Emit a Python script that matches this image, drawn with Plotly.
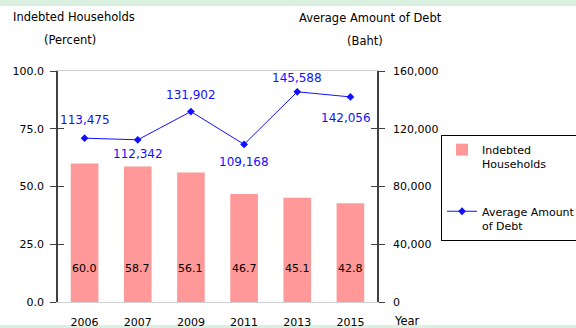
import plotly.graph_objects as go

# Survey years and series
years = ["2006", "2007", "2009", "2011", "2013", "2015"]
indebted_pct = [60.0, 58.7, 56.1, 46.7, 45.1, 42.8]
avg_debt = [113475, 112342, 131902, 109168, 145588, 142056]
left_ticks = [0, 25, 50, 75, 100]
right_ticks = [0, 40000, 80000, 120000, 160000]

# Label placement for the debt line (pixel offsets from each marker)
debt_label_shift = [(0, 18), (0, -14), (0, 17), (0, -18), (0, 14), (-4, -21)]

FONT = "DejaVu Sans"
BAR_COLOR = "#FF9999"
LINE_COLOR = "#1010FF"
AXIS_COLOR = "#404040"

# plot area in pixels
W, H = 576, 328
L, R, T, B = 58, 377, 71, 302


def px_x(p):
    return (p - L) / (R - L)


def px_y(p):
    return (B - p) / (B - T)


fig = go.Figure()

fig.add_trace(go.Bar(
    x=years, y=indebted_pct, name="Indebted<br>Households",
    legendgroup="bars",
    marker=dict(color=BAR_COLOR, line=dict(width=0)), width=0.52,
    yaxis="y", hoverinfo="skip",
))
fig.add_trace(go.Scatter(
    x=years, y=avg_debt, name="Average Amount<br>of Debt",
    legendgroup="line",
    mode="lines+markers", yaxis="y2",
    line=dict(color=LINE_COLOR, width=1),
    marker=dict(symbol="diamond", size=6, color=LINE_COLOR),
))

annotations = []
# values inside the bars (x given as category index)
for i, v in enumerate(indebted_pct):
    annotations.append(dict(
        x=i, y=14.3, xref="x", yref="y", text=f"{v:.1f}", showarrow=False,
        xanchor="center", yanchor="middle",
        font=dict(family=FONT, size=11, color="black"),
    ))
# values next to the line markers
for i, (v, (dx, dy)) in enumerate(zip(avg_debt, debt_label_shift)):
    annotations.append(dict(
        x=i, y=v, xref="x", yref="y2", text=f"{v:,}", showarrow=False,
        xanchor="center", yanchor="middle", xshift=dx, yshift=dy,
        font=dict(family=FONT, size=12, color=LINE_COLOR),
    ))
# axis titles
title_font = dict(family=FONT, size=11.5, color="black")


def label(px, py, text, anchor="center"):
    return dict(x=px_x(px), y=px_y(py), xref="paper", yref="paper",
                xanchor=anchor, yanchor="middle", text=text,
                showarrow=False, font=title_font)


annotations += [
    label(11, 17, "Indebted Households", "left"),
    label(70, 40, "(Percent)"),
    label(370, 18, "Average Amount of Debt"),
    label(365, 41, "(Baht)"),
    label(407, 321, "Year"),
]

band = "#DAF1E1"
shapes = [
    dict(type="rect", xref="paper", yref="paper", x0=px_x(0), x1=px_x(W),
         y0=px_y(6), y1=px_y(-2), fillcolor=band, line=dict(width=0), layer="below"),
    dict(type="rect", xref="paper", yref="paper", x0=px_x(0), x1=px_x(W),
         y0=px_y(W), y1=px_y(325), fillcolor=band, line=dict(width=0), layer="below"),
]

tick_font = dict(family=FONT, size=11, color="black")
yaxis_common = dict(showgrid=False, zeroline=False, linecolor=AXIS_COLOR,
                    linewidth=1.5, showline=True, tickcolor=AXIS_COLOR,
                    ticklen=6, tickwidth=1.2, tickfont=tick_font)

fig.update_layout(
    width=W, height=H,
    margin=dict(l=L, r=W - R, t=T, b=H - B, autoexpand=False),
    paper_bgcolor="white", plot_bgcolor="white",
    font=dict(family=FONT, size=11, color="black"),
    bargap=0.48,
    xaxis=dict(type="category", range=[-0.5, 5.5], showgrid=False,
               showline=True, linecolor="#D0D0D0", linewidth=1.2, mirror=True,
               ticks="", tickfont=tick_font, ticklabelstandoff=10),
    yaxis=dict(range=[0, 100], tickvals=left_ticks,
               ticktext=[f"{t:.1f}" for t in left_ticks], ticks="outside",
               ticklabelstandoff=4, **yaxis_common),
    yaxis3=dict(range=[0, 100], tickvals=left_ticks, overlaying="y",
                side="left", ticks="inside", showticklabels=False, **yaxis_common),
    yaxis2=dict(range=[0, 160000], tickvals=right_ticks,
                ticktext=[f"{t:,}" for t in right_ticks], overlaying="y",
                side="right", ticks="outside", ticklabelstandoff=6, **yaxis_common),
    yaxis4=dict(range=[0, 160000], tickvals=right_ticks, overlaying="y",
                side="right", ticks="inside", showticklabels=False, **yaxis_common),
    legend=dict(x=px_x(441), y=px_y(135), xanchor="left", yanchor="top",
                bordercolor="black", borderwidth=1, bgcolor="white",
                font=dict(family=FONT, size=11, color="black"),
                traceorder="grouped", tracegroupgap=30, itemwidth=30,
                valign="top"),
    annotations=annotations,
    shapes=shapes,
    showlegend=True,
)

# invisible traces to bind the tick-only overlay axes
fig.add_trace(go.Scatter(x=[years[0]], y=[0], yaxis="y3", mode="markers",
                         marker=dict(opacity=0), showlegend=False, hoverinfo="skip"))
fig.add_trace(go.Scatter(x=[years[0]], y=[0], yaxis="y4", mode="markers",
                         marker=dict(opacity=0), showlegend=False, hoverinfo="skip"))

fig.write_html("out.html")
